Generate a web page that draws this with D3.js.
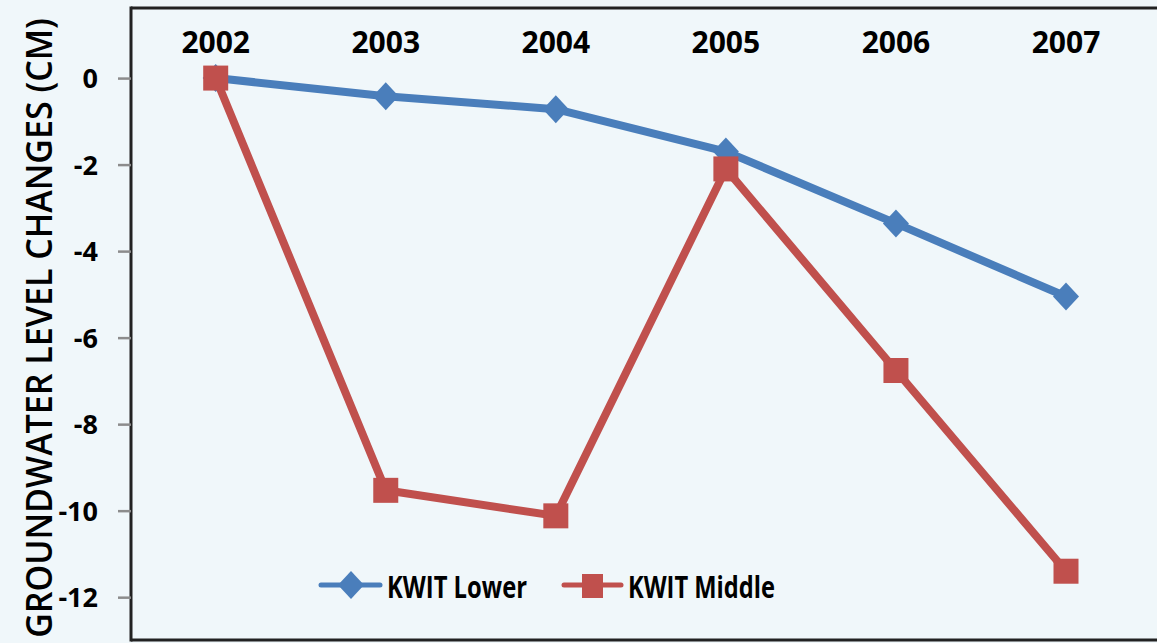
<!DOCTYPE html>
<html><head><meta charset="utf-8">
<script src="https://cdn.jsdelivr.net/npm/d3@7"></script>
<style>html,body{margin:0;padding:0;background:#f0f7fa;}svg{display:block;}</style>
</head><body>
<script>
const years = ["2002","2003","2004","2005","2006","2007"];
const kwitLower = [0, -0.42, -0.72, -1.7, -3.36, -5.05];
const kwitMiddle = [0, -9.53, -10.12, -2.1, -6.76, -11.4];
const yTicks = [0, -2, -4, -6, -8, -10, -12];
const seriesNames = ["KWIT Lower", "KWIT Middle"];

const W = 1157, H = 643;
const svg = d3.select("body").append("svg").attr("width", W).attr("height", H);
svg.append("rect").attr("width", W).attr("height", H).attr("fill", "#f0f7fa");

const x = d3.scalePoint().domain(years).range([215.7, 1066]);
const y = d3.scaleLinear().domain([1.62, -12.99]).range([8, 640]);

const font = "'Open Sans', sans-serif";
const blue = "#4a7ebb", red = "#c0504d";

// frame
svg.append("line").attr("x1", 131).attr("x2", W).attr("y1", 8).attr("y2", 8).attr("stroke", "#222").attr("stroke-width", 3);
svg.append("line").attr("x1", 131).attr("x2", W).attr("y1", 640).attr("y2", 640).attr("stroke", "#222").attr("stroke-width", 3);

// y axis
const yAxis = d3.axisLeft(y).tickValues(yTicks).tickSize(13).tickFormat(d => String(d));
const gy = svg.append("g").attr("transform", "translate(131,0)").call(yAxis);
gy.select(".domain").attr("stroke", "#222").attr("stroke-width", 3).attr("d", "M0,6.5V641.5");
gy.selectAll(".tick line").attr("stroke", "#8c8c8c").attr("stroke-width", 2.5);
gy.selectAll(".tick text").attr("x", -33).attr("dy", "0.36em")
  .attr("font-family", font).attr("font-weight", 700).attr("font-size", 27).attr("fill", "#000");

// x labels on top
svg.append("g").selectAll("text").data(years).join("text")
  .attr("x", d => x(d)).attr("y", 53).attr("text-anchor", "middle")
  .attr("font-family", font).attr("font-weight", 700).attr("font-size", 30).attr("fill", "#000")
  .text(d => d);

// y title (condensed via scale to fit)
const title = svg.append("text")
  .attr("text-anchor", "middle").attr("font-family", font).attr("font-weight", 600)
  .attr("font-size", 36).attr("fill", "#000")
  .text("GROUNDWATER LEVEL CHANGES (CM)");
const natural = title.node().getComputedTextLength();
const sx = 620 / natural;
title.attr("transform", `translate(52,328) rotate(-90) scale(${sx},1)`);

const line = d3.line().x((d, i) => x(years[i])).y(d => y(d));

svg.append("path").datum(kwitLower).attr("d", line).attr("fill", "none")
  .attr("stroke", blue).attr("stroke-width", 8).attr("stroke-linejoin", "round");
svg.append("path").datum(kwitMiddle).attr("d", line).attr("fill", "none")
  .attr("stroke", red).attr("stroke-width", 8).attr("stroke-linejoin", "round");

const diamond = (cx, cy) => `M${cx},${cy-14}L${cx+13},${cy}L${cx},${cy+14}L${cx-13},${cy}Z`;

svg.append("g").selectAll("path").data(kwitLower).join("path")
  .attr("d", (d, i) => diamond(x(years[i]), y(d))).attr("fill", blue);
svg.append("g").selectAll("rect").data(kwitMiddle).join("rect")
  .attr("x", (d, i) => x(years[i]) - 12.5).attr("y", d => y(d) - 12.5)
  .attr("width", 25).attr("height", 25).attr("fill", red);

// legend
const lg = svg.append("g");
lg.append("line").attr("x1", 321).attr("x2", 380).attr("y1", 585).attr("y2", 585).attr("stroke", blue).attr("stroke-width", 5).attr("stroke-linecap", "round");
lg.append("path").attr("d", diamond(351, 585)).attr("fill", blue);
lg.append("text").attr("x", 387).attr("y", 598).attr("font-family", font).attr("font-weight", 700)
  .attr("font-size", 30).attr("textLength", 140).attr("lengthAdjust", "spacingAndGlyphs").attr("fill", "#000").text(seriesNames[0]);
lg.append("line").attr("x1", 564).attr("x2", 621).attr("y1", 585).attr("y2", 585).attr("stroke", red).attr("stroke-width", 5).attr("stroke-linecap", "round");
lg.append("rect").attr("x", 582).attr("y", 574).attr("width", 21).attr("height", 24).attr("fill", red);
lg.append("text").attr("x", 628).attr("y", 598).attr("font-family", font).attr("font-weight", 700)
  .attr("font-size", 30).attr("textLength", 147).attr("lengthAdjust", "spacingAndGlyphs").attr("fill", "#000").text(seriesNames[1]);
</script>
</body></html>
